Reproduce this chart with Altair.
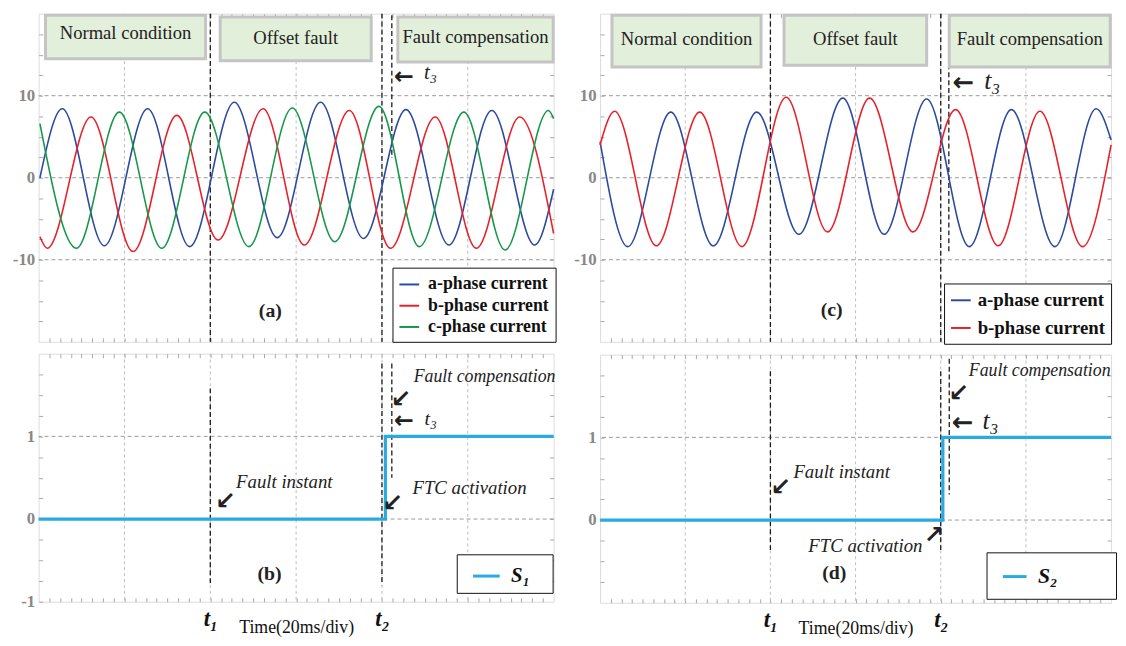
import json
import altair as alt
import pandas as pd

FONT = "Liberation Serif"
ARROWFONT = "DejaVu Sans"
W_L = 521
W_R = 517
H_TOP = 332
H_BOT = 251

# ---------------- axis / grid positions ----------------
x_grid = [20, 40, 60, 80, 100]
x_minor = [i * 2.5 for i in range(1, 48)]
y_grid_top = [-10, 0, 10]
y_minor_top = [v * 2.5 for v in range(-7, 8)]
y_grid_bot = [0, 1]
y_minor_b = [v * 0.25 for v in range(-4, 8)]
y_minor_d = [v * 0.25 for v in range(-3, 8)]
y_labels_a = [-10, 0, 10]
y_labels_b = [-1, 0, 1]
y_labels_d = [0, 1]

# ---------------- panel (a): three-phase currents ----------------
a_time = [0.3, 5.5, 15.3, 25.4, 35.2, 45.6, 55.6, 65.7, 75.7, 85.6, 95.6, 105.6, 115.6, 120]
a_cur = [0.0, 8.4, -8.3, 8.4, -8.4, 9.2, -7.3, 9.2, -7.4, 8.3, -8.2, 8.2, -8.2, -1.4]
b_time = [0.3, 2.0, 12.2, 22.0, 32.2, 41.8, 52.3, 61.9, 72.4, 82.0, 92.4, 102.0, 112.1, 120]
b_cur = [-7.2, -8.6, 7.4, -9.0, 7.6, -7.6, 8.4, -8.2, 8.2, -8.6, 7.4, -8.6, 7.4, -6.8]
c_time = [0.3, 8.8, 18.8, 28.7, 38.7, 49.0, 59.1, 69.0, 79.3, 88.7, 99.1, 108.7, 118.8, 120]
c_cur = [6.6, -8.6, 8.0, -8.6, 8.0, -8.4, 8.5, -7.8, 8.7, -8.4, 8.0, -8.8, 8.2, 7.2]

# ---------------- panel (c): two-phase currents ----------------
ca_time = [0, 6.5, 16.6, 26.6, 36.8, 46.7, 57.0, 66.7, 76.7, 86.7, 96.6, 106.8, 116.5, 120]
ca_cur = [4.4, -8.4, 8.0, -8.3, 8.0, -6.9, 9.7, -6.9, 9.6, -8.4, 8.3, -8.4, 8.4, 4.6]
cb_time = [0, 3.4, 13.2, 23.4, 33.3, 43.7, 53.4, 63.3, 73.5, 83.5, 93.5, 103.3, 113.3, 120]
cb_cur = [4.0, 8.1, -8.3, 8.0, -8.4, 9.8, -6.6, 9.7, -6.6, 8.3, -8.3, 8.1, -8.4, 4.0]

phase_names3 = ["a-phase current", "b-phase current", "c-phase current"]
phase_names2 = ["a-phase current", "b-phase current"]
phase_colors = ["#2b4aa0", "#e8202a", "#17974a"]

# ---------------- switching signals ----------------
s1_time = [0, 80.8, 120]
s1_val = [0, 1, 1]
s2_time = [0, 80.5, 120]
s2_val = [0, 1, 1]
s_color = "#29abe2"
s1_name = "S₁\u2800"
s2_name = "S₂\u2800\u2800\u2800"

# ---------------- event lines (t1, t2, t3) ----------------
ev_a_x = [40, 80, 82.3]; ev_a_top = [20, 20, 19.8]; ev_a_bot = [-20, -20, 2.4]
ev_b_x = [40, 80, 82.3]; ev_b_top = [1.58, 1.88, 1.88]; ev_b_bot = [-0.8, -0.8, 0.5]
ev_c_x = [40, 80, 81.9]; ev_c_top = [20, 20, 19.6]; ev_c_bot = [-20, -20, -9.3]
ev_d_x = [40, 80, 82.0]; ev_d_top = [1.8, 1.8, 1.95]; ev_d_bot = [-0.37, -0.37, 0.31]

# ---------------- state boxes ----------------
box_text = ["Normal condition", "Offset fault", "Fault compensation"]
box_a_x1 = [1.6, 42.3, 83.7]; box_a_x2 = [38.9, 77.5, 119.9]
box_a_y1 = [14.5, 14.25, 14.1]; box_a_y2 = [19.8, 19.6, 19.6]
box_a_ty = [17.6, 17.0, 17.1]
box_c_x1 = [2.8, 43.2, 82.0]; box_c_x2 = [37.8, 76.7, 119.8]
box_c_y1 = [13.5, 13.7, 13.5]; box_c_y2 = [19.8, 19.8, 19.8]
box_c_ty = [16.9, 16.9, 16.9]

# ---------------- annotations ----------------
note_a_text = ["t₃"]; note_a_x = [89.8]; note_a_y = [12.8]; note_a_size = [21]
arrow_a_text = ["←"]; arrow_a_x = [85.1]; arrow_a_y = [12.3]; arrow_a_size = [24]

note_b_text = ["Fault compensation", "t₃", "FTC activation", "Fault instant"]
note_b_x = [87.4, 89.9, 87.1, 46.0]
note_b_y = [1.72, 1.21, 0.37, 0.45]
note_b_size = [18, 20, 19, 19]
arrow_b_text = ["↙", "←", "↙", "↙"]
arrow_b_x = [84.4, 85.1, 82.5, 43.5]
arrow_b_y = [1.45, 1.18, 0.19, 0.22]
arrow_b_size = [25, 24, 25, 25]

note_c_text = ["t₃"]; note_c_x = [90.2]; note_c_y = [11.8]; note_c_size = [26]
arrow_c_text = ["←"]; arrow_c_x = [85.3]; arrow_c_y = [11.5]; arrow_c_size = [26]

note_d_text = ["Fault compensation", "t₃", "Fault instant", "FTC activation"]
note_d_x = [86.6, 89.8, 45.4, 48.9]
note_d_y = [1.8, 1.2, 0.58, -0.32]
note_d_size = [18, 26, 19, 19]
arrow_d_text = ["↙", "←", "↙", "↗"]
arrow_d_x = [84.2, 85.1, 42.4, 78.4]
arrow_d_y = [1.53, 1.17, 0.4, -0.18]
arrow_d_size = [25, 26, 25, 25]

panel_tag = ["(a)", "(b)", "(c)", "(d)"]
tag_x = [54.0, 53.8, 54.4, 55.0]
tag_y = [-16.3, -0.67, -16.1, -0.64]

XS = alt.Scale(domain=[0, 120], nice=False, zero=False)
YS_TOP = alt.Scale(domain=[-20, 20], nice=False, zero=False)
YS_BOT = alt.Scale(domain=[-1, 2], nice=False, zero=False)

TICK_COLOR = "#a8a8a8"


def axis_bottom(with_labels):
    kw = dict(orient="bottom", values=x_minor, offset=-4, tickSize=4, tickColor=TICK_COLOR,
              domain=False, grid=False, labelOverlap=False, labelFlush=False)
    if with_labels:
        kw.update(labelExpr="datum.value == 40 ? 't₁' : datum.value == 80 ? 't₂' : ''",
                  labelFont=FONT, labelFontSize=23, labelFontStyle="italic", labelFontWeight="bold",
                  labelColor="#111", labelPadding=6, title="Time(20ms/div)", titleFont=FONT,
                  titleFontSize=18, titleFontWeight="normal", titleColor="#111", titleY=21)
    else:
        kw.update(labels=False, title=None, minExtent=0, maxExtent=0)
    return alt.Axis(**kw)


def axis_left(values, shown):
    expr = "indexof(%s, datum.value) >= 0 ? '' + datum.value : ''" % json.dumps(shown)
    return alt.Axis(orient="left", values=values, offset=-4, tickSize=4, tickColor=TICK_COLOR,
                    domain=False, grid=False, title=None, labelExpr=expr, labelFont=FONT,
                    labelFontSize=17, labelFontWeight="bold", labelColor="#888888",
                    labelPadding=4, labelOverlap=False, labelFlush=False, minExtent=34, maxExtent=34)


def axis_top():
    return alt.Axis(orient="top", values=x_minor, offset=-4, tickSize=4, tickColor=TICK_COLOR,
                    domain=False, grid=False, labels=False, title=None, minExtent=0, maxExtent=0)


def axis_right(values):
    return alt.Axis(orient="right", values=values, offset=-4, tickSize=4, tickColor=TICK_COLOR,
                    domain=False, grid=False, labels=False, title=None, minExtent=0, maxExtent=0)


def build_panel(width, height, ys, yminor, ylabels, hgrid, bottom_labels,
                line_layer, ev_x, ev_top, ev_bot, notes, arrows, tag_i, boxes=None):
    vgrid = alt.Chart(pd.DataFrame({"gx": x_grid})).mark_rule(
        color="#bdbdbd", strokeDash=[3, 3], strokeWidth=1
    ).encode(x=alt.X("gx:Q", scale=XS, axis=axis_bottom(bottom_labels)))

    hg = alt.Chart(pd.DataFrame({"gy": hgrid})).mark_rule(
        color="#9a9a9a", strokeDash=[4, 3], strokeWidth=1
    ).encode(y=alt.Y("gy:Q", scale=ys, axis=axis_left(yminor, ylabels)))

    ev = alt.Chart(pd.DataFrame({"ex": ev_x, "et": ev_top, "eb": ev_bot})).mark_rule(
        color="#1a1a1a", strokeDash=[5, 3], strokeWidth=1.3
    ).encode(
        x=alt.X("ex:Q", scale=XS, axis=axis_top()),
        y=alt.Y("et:Q", scale=ys, axis=axis_right([v for v in yminor if v != ys.domain[0]])),
        y2="eb:Q",
    )

    layers = [vgrid, hg, ev, line_layer]

    if boxes is not None:
        bx1, bx2, by1, by2, bty = boxes
        bdf = pd.DataFrame({"x1": bx1, "x2": bx2, "y1": by1, "y2": by2, "ty": bty, "txt": box_text})
        bdf["xc"] = (bdf["x1"] + bdf["x2"]) / 2
        rects = alt.Chart(bdf).mark_rect(fill="#e2efda", stroke="#c4c4c4", strokeWidth=3).encode(
            x=alt.X("x1:Q", scale=XS, axis=None), x2="x2:Q",
            y=alt.Y("y1:Q", scale=ys, axis=None), y2="y2:Q")
        btxt = alt.Chart(bdf).mark_text(font=FONT, fontSize=18.8, color="#222", baseline="middle").encode(
            x=alt.X("xc:Q", scale=XS, axis=None), y=alt.Y("ty:Q", scale=ys, axis=None), text="txt:N")
        layers += [rects, btxt]

    nt, nx, ny, ns = notes
    ndf = pd.DataFrame({"t": nt, "x": nx, "y": ny, "s": ns})
    ntxt = alt.Chart(ndf).mark_text(font=FONT, fontStyle="italic", color="#222", align="left",
                                    baseline="middle").encode(
        x=alt.X("x:Q", scale=XS, axis=None), y=alt.Y("y:Q", scale=ys, axis=None),
        text="t:N", size=alt.Size("s:Q", scale=None, legend=None))
    at, ax_, ay, asz = arrows
    adf = pd.DataFrame({"t": at, "x": ax_, "y": ay, "s": asz})
    atxt = alt.Chart(adf).mark_text(font=ARROWFONT, fontWeight="bold", color="#222", align="center",
                                    baseline="middle").encode(
        x=alt.X("x:Q", scale=XS, axis=None), y=alt.Y("y:Q", scale=ys, axis=None),
        text="t:N", size=alt.Size("s:Q", scale=None, legend=None))
    tdf = pd.DataFrame({"t": [panel_tag[tag_i]], "x": [tag_x[tag_i]], "y": [tag_y[tag_i]]})
    ttxt = alt.Chart(tdf).mark_text(font=FONT, fontWeight="bold", fontSize=20, color="#222",
                                    baseline="middle").encode(
        x=alt.X("x:Q", scale=XS, axis=None), y=alt.Y("y:Q", scale=ys, axis=None), text="t:N")
    layers += [ntxt, atxt, ttxt]

    return alt.layer(*layers).resolve_axis(x="independent", y="independent").properties(
        width=width, height=height)


def wave_layer(times, currents, names, colors, legend):
    rows = []
    for t_list, c_list, n in zip(times, currents, names):
        for t, c in zip(t_list, c_list):
            rows.append({"time": t, "cur": c, "phase": n})
    df = pd.DataFrame(rows)
    return alt.Chart(df).mark_line(interpolate="monotone", strokeWidth=1.6).encode(
        x=alt.X("time:Q", scale=XS, axis=None),
        y=alt.Y("cur:Q", scale=YS_TOP, axis=None),
        color=alt.Color("phase:N", scale=alt.Scale(domain=names, range=colors), legend=legend),
        detail="phase:N",
    )


def step_layer(times, vals, name, legend):
    df = pd.DataFrame({"time": times, "s": vals, "name": name})
    return alt.Chart(df).mark_line(interpolate="step-after", strokeWidth=3.2).encode(
        x=alt.X("time:Q", scale=XS, axis=None),
        y=alt.Y("s:Q", scale=YS_BOT, axis=None),
        color=alt.Color("name:N", scale=alt.Scale(domain=[name], range=[s_color]), legend=legend),
    )


def legend(x, y, pad, rowpad, size, sw, fs, italic=False, offset=8, symoff=0):
    kw = dict(orient="none", legendX=x, legendY=y, direction="vertical", title=None,
              strokeColor="#111", fillColor="white", padding=pad, rowPadding=rowpad,
              symbolType="stroke", symbolSize=size, symbolStrokeWidth=sw, labelFont=FONT,
              labelFontSize=fs, labelFontWeight="bold", labelColor="#111", labelOffset=offset,
              labelLimit=400, symbolOffset=symoff)
    if italic:
        kw["labelFontStyle"] = "italic"
    return alt.Legend(**kw)


leg_a = legend(358, 257, 6, 1.5, 400, 2, 18)
leg_c = legend(348, 273, 6, 7, 400, 2, 19, offset=6)
leg_b = legend(423, 203, 7, 0, 729, 3, 21, italic=True, offset=10, symoff=8)
leg_d = legend(391, 200, 11, 0, 576, 3, 22, italic=True, offset=10, symoff=4)

pa = build_panel(
    W_L, H_TOP, YS_TOP, y_minor_top, y_labels_a, y_grid_top, False,
    wave_layer([a_time, b_time, c_time], [a_cur, b_cur, c_cur], phase_names3, phase_colors, leg_a),
    ev_a_x, ev_a_top, ev_a_bot,
    (note_a_text, note_a_x, note_a_y, note_a_size),
    (arrow_a_text, arrow_a_x, arrow_a_y, arrow_a_size), 0,
    boxes=(box_a_x1, box_a_x2, box_a_y1, box_a_y2, box_a_ty))

pb = build_panel(
    W_L, H_BOT, YS_BOT, y_minor_b, y_labels_b, y_grid_bot, True,
    step_layer(s1_time, s1_val, s1_name, leg_b),
    ev_b_x, ev_b_top, ev_b_bot,
    (note_b_text, note_b_x, note_b_y, note_b_size),
    (arrow_b_text, arrow_b_x, arrow_b_y, arrow_b_size), 1)

pc = build_panel(
    W_R, H_TOP, YS_TOP, y_minor_top, y_labels_a, y_grid_top, False,
    wave_layer([ca_time, cb_time], [ca_cur, cb_cur], phase_names2, phase_colors[:2], leg_c),
    ev_c_x, ev_c_top, ev_c_bot,
    (note_c_text, note_c_x, note_c_y, note_c_size),
    (arrow_c_text, arrow_c_x, arrow_c_y, arrow_c_size), 2,
    boxes=(box_c_x1, box_c_x2, box_c_y1, box_c_y2, box_c_ty))

pd_ = build_panel(
    W_R, H_BOT, YS_BOT, y_minor_d, y_labels_d, y_grid_bot, True,
    step_layer(s2_time, s2_val, s2_name, leg_d),
    ev_d_x, ev_d_top, ev_d_bot,
    (note_d_text, note_d_x, note_d_y, note_d_size),
    (arrow_d_text, arrow_d_x, arrow_d_y, arrow_d_size), 3)

left = alt.vconcat(pa, pb, spacing=9).resolve_scale(color="independent")
right = alt.vconcat(pc, pd_, spacing=9).resolve_scale(color="independent")

chart = alt.hconcat(left, right, spacing=9).resolve_scale(color="independent").properties(
    padding={"left": 0, "top": 0, "right": 0, "bottom": 0}
).configure_view(stroke="#a8a8a8", strokeWidth=2).configure(background="white")

chart.save("out.html", embed_options={"renderer": "svg", "actions": False})
